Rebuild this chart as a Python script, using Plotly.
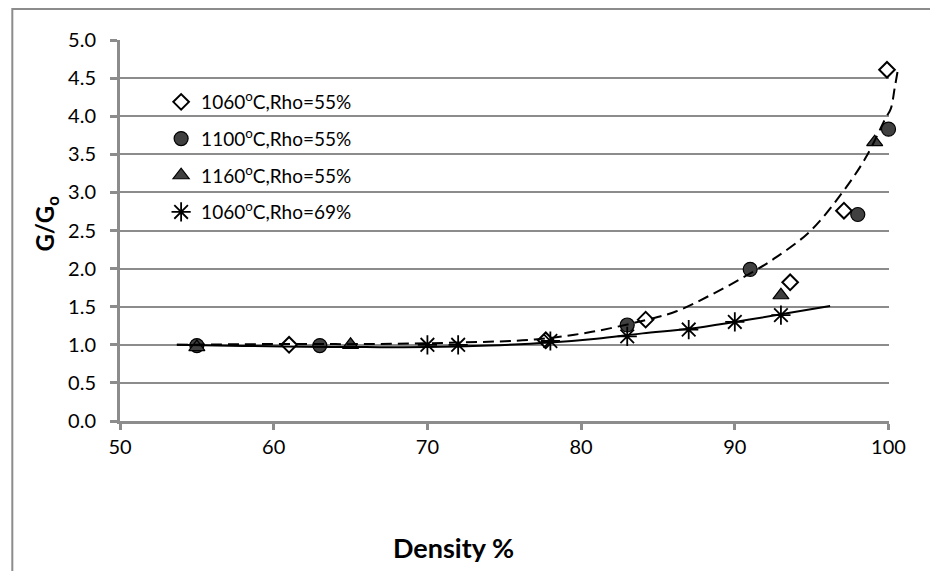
import plotly.graph_objects as go

# ---- data ----
d1060_55_x = [61.0, 77.7, 84.2, 93.6, 97.1, 99.9]
d1060_55_y = [1.00, 1.06, 1.33, 1.82, 2.76, 4.61]

d1100_55_x = [55.0, 63.0, 83.0, 91.0, 98.0, 100.0]
d1100_55_y = [0.99, 0.99, 1.26, 1.99, 2.71, 3.83]

d1160_55_x = [55.0, 65.0, 93.0, 99.1]
d1160_55_y = [0.97, 1.00, 1.65, 3.66]

d1060_69_x = [70.0, 72.0, 78.0, 83.0, 87.0, 90.0, 93.0]
d1060_69_y = [1.00, 1.00, 1.05, 1.11, 1.20, 1.30, 1.39]

# trendlines
trend55_x = [53.7, 60, 66, 72, 77, 80.7, 84.3, 86.2, 88.4, 91.2, 92.7, 94.9, 97.0, 98.5, 99.8, 100.15, 100.4, 100.6]
trend55_y = [1.00, 1.01, 1.01, 1.03, 1.07, 1.17, 1.33, 1.44, 1.65, 1.96, 2.15, 2.49, 3.00, 3.45, 3.97, 4.10, 4.37, 4.60]

trend69_x = [53.7, 58, 62, 66, 70, 74, 78, 81, 84, 87, 90, 93, 96.2]
trend69_y = [1.00, 0.985, 0.975, 0.97, 0.97, 0.99, 1.03, 1.08, 1.15, 1.21, 1.30, 1.40, 1.51]

names = ["1060<sup>o</sup>C,Rho=55%", "1100<sup>o</sup>C,Rho=55%",
         "1160<sup>o</sup>C,Rho=55%", "1060<sup>o</sup>C,Rho=69%"]

x_ticks = [50, 60, 70, 80, 90, 100]
y_ticks = [0.0, 0.5, 1.0, 1.5, 2.0, 2.5, 3.0, 3.5, 4.0, 4.5, 5.0]

# ---- layout geometry (pixels) ----
W, H = 930, 571
L, T = 120, 40
AX_R = 905            # x = 100
PLOT_R = 930          # right edge of the wider trendline subplot
B_Y = 421             # y of 0.0
pw = PLOT_R - L
ph = B_Y - T
dom_main = (AX_R - L) / pw
x2_max = 50 + 50 * pw / (AX_R - L)

GRID = "#8c8c8c"
FONT = "Lato"

fig = go.Figure()

# trendlines on a wider, invisible subplot so they may run a little past x=100
fig.add_trace(go.Scatter(x=trend69_x, y=trend69_y, mode="lines", xaxis="x2", yaxis="y2",
                         line=dict(color="black", width=2, shape="spline", smoothing=1.0),
                         showlegend=False, hoverinfo="skip"))
fig.add_trace(go.Scatter(x=trend55_x, y=trend55_y, mode="lines", xaxis="x2", yaxis="y2",
                         line=dict(color="black", width=2, dash="11px,6px", shape="spline", smoothing=1.0),
                         showlegend=False, hoverinfo="skip"))

fig.add_trace(go.Scatter(x=d1060_55_x, y=d1060_55_y, mode="markers", name=names[0], legendgroup="a",
                         cliponaxis=False,
                         marker=dict(symbol="diamond", size=12, color="white",
                                     line=dict(color="black", width=2))))
fig.add_trace(go.Scatter(x=d1100_55_x, y=d1100_55_y, mode="markers", name=names[1], legendgroup="b",
                         cliponaxis=False,
                         marker=dict(symbol="circle", size=14, color="#404040",
                                     line=dict(color="black", width=1.2))))
fig.add_trace(go.Scatter(x=d1160_55_x, y=d1160_55_y, mode="markers", name=names[2], legendgroup="c",
                         cliponaxis=False,
                         marker=dict(symbol="triangle-up", size=14, color="#404040",
                                     line=dict(color="black", width=1.2))))
fig.add_trace(go.Scatter(x=d1060_69_x, y=d1060_69_y, mode="markers", name=names[3], legendgroup="d",
                         cliponaxis=False,
                         marker=dict(symbol="asterisk-open", size=16, color="black",
                                     line=dict(color="black", width=1.8))))

# outer chart border (runs off the right and bottom edges like the reference)
fig.add_shape(type="rect", xref="paper", yref="paper",
              x0=(10 - L) / pw, x1=(W + 30 - L) / pw,
              y0=-(H + 30 - B_Y) / ph, y1=1 + (T - 9) / ph,
              line=dict(color="#8c8c8c", width=2), layer="below")

# axis titles
fig.add_annotation(text="<b>Density %</b>", xref="paper", yref="paper",
                   x=(461 - L) / pw, y=-(547 - B_Y) / ph, showarrow=False,
                   xanchor="center", yanchor="middle",
                   font=dict(family=FONT, size=27, color="black"))
fig.add_annotation(text="<b>G/G<sub>o</sub></b>", xref="paper", yref="paper",
                   x=-(L - 44) / pw, y=1 - (224 - T) / ph, showarrow=False, textangle=-90,
                   xanchor="center", yanchor="middle",
                   font=dict(family=FONT, size=24, color="black"))

fig.update_layout(
    width=W, height=H,
    margin=dict(l=L, r=W - PLOT_R, t=T, b=H - B_Y, pad=0),
    paper_bgcolor="white", plot_bgcolor="rgba(0,0,0,0)",
    font=dict(family=FONT, size=20, color="black"),
    showlegend=True,
    legend=dict(x=(162 - L) / pw, y=1 - (83 - T) / ph, xanchor="left", yanchor="top",
                bgcolor="rgba(0,0,0,0)", font=dict(family=FONT, size=19, color="black"),
                traceorder="grouped", tracegroupgap=9, itemwidth=30),
    xaxis=dict(domain=[0, dom_main], range=[50, 100], tickvals=x_ticks,
               ticktext=[str(v) for v in x_ticks],
               showgrid=False, zeroline=False, showline=True, linecolor=GRID, linewidth=3,
               ticks="outside", ticklen=6, tickwidth=3, tickcolor=GRID,
               ticklabelstandoff=0, ticklabeloverflow="allow", anchor="y"),
    yaxis=dict(domain=[0, 1], range=[0, 5], tickvals=y_ticks,
               ticktext=[f"{v:.1f}" for v in y_ticks],
               showgrid=True, gridcolor=GRID, gridwidth=1.5, zeroline=False,
               showline=True, linecolor=GRID, linewidth=3,
               ticks="outside", ticklen=7, tickwidth=3, tickcolor=GRID,
               ticklabelstandoff=10, anchor="x"),
    xaxis2=dict(domain=[0, 1], range=[50, x2_max], visible=False, anchor="y2"),
    yaxis2=dict(domain=[0, 1], range=[0, 5], visible=False, anchor="x2"),
)

fig.write_html("out.html", config={"displayModeBar": False},
               post_script="document.body.style.margin='0';document.body.style.overflow='hidden';")
